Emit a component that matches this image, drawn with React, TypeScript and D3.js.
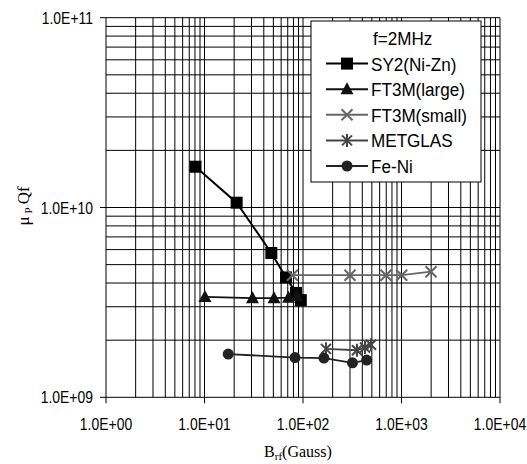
import React from "react";
import * as d3 from "d3";

const W = 527;
const H = 464;

const xTickLabels = ["1.0E+00", "1.0E+01", "1.0E+02", "1.0E+03", "1.0E+04"];
const xTickValues = [1, 10, 100, 1000, 10000];
const yTickLabels = ["1.0E+09", "1.0E+10", "1.0E+11"];
const yTickValues = [1e9, 1e10, 1e11];

const sy2X = [8.1, 21.2, 47.7, 67.2, 85, 95];
const sy2Y = [1.64e10, 1.06e10, 5.76e9, 4.28e9, 3.55e9, 3.25e9];

const ft3mLargeX = [10.1, 30.7, 50.8, 71.3, 86.3];
const ft3mLargeY = [3.38e9, 3.33e9, 3.33e9, 3.35e9, 3.42e9];

const ft3mSmallX = [78, 300, 696, 1005, 1995];
const ft3mSmallY = [4.4e9, 4.4e9, 4.4e9, 4.4e9, 4.59e9];

const metglasX = [171, 353, 426, 490];
const metglasY = [1.8e9, 1.77e9, 1.83e9, 1.89e9];

const feNiX = [17.4, 83, 163, 318, 443];
const feNiY = [1.69e9, 1.62e9, 1.61e9, 1.52e9, 1.57e9];

const legendTitle = "f=2MHz";
const seriesNames = ["SY2(Ni-Zn)", "FT3M(large)", "FT3M(small)", "METGLAS", "Fe-Ni"];

type Marker = "square" | "triangle" | "x" | "asterisk" | "circle";

const series: { name: string; xs: number[]; ys: number[]; color: string; marker: Marker; lw: number }[] = [
  { name: seriesNames[0], xs: sy2X, ys: sy2Y, color: "#000", marker: "square", lw: 2 },
  { name: seriesNames[1], xs: ft3mLargeX, ys: ft3mLargeY, color: "#111", marker: "triangle", lw: 1.6 },
  { name: seriesNames[2], xs: ft3mSmallX, ys: ft3mSmallY, color: "#666", marker: "x", lw: 1.8 },
  { name: seriesNames[3], xs: metglasX, ys: metglasY, color: "#444", marker: "asterisk", lw: 1.8 },
  { name: seriesNames[4], xs: feNiX, ys: feNiY, color: "#222", marker: "circle", lw: 1.8 },
];

const sansFont = "'Liberation Sans', Arial, sans-serif";
const serifFont = "'Liberation Serif', 'Times New Roman', serif";

function MarkerShape({ kind, cx, cy, color }: { kind: Marker; cx: number; cy: number; color: string }) {
  const s = 6;
  switch (kind) {
    case "square":
      return <rect x={cx - s} y={cy - s} width={2 * s} height={2 * s} fill={color} />;
    case "triangle":
      return (
        <path
          d={`M${cx},${cy - 7} L${cx + 6.5},${cy + 5} L${cx - 6.5},${cy + 5} Z`}
          fill={color}
        />
      );
    case "x":
      return (
        <path
          d={`M${cx - 5.5},${cy - 5.5} L${cx + 5.5},${cy + 5.5} M${cx - 5.5},${cy + 5.5} L${cx + 5.5},${cy - 5.5}`}
          stroke={color}
          strokeWidth={2}
          fill="none"
        />
      );
    case "asterisk":
      return (
        <path
          d={`M${cx - 5},${cy - 5} L${cx + 5},${cy + 5} M${cx - 5},${cy + 5} L${cx + 5},${cy - 5} M${cx},${cy - 6.5} L${cx},${cy + 6.5}`}
          stroke={color}
          strokeWidth={2}
          fill="none"
        />
      );
    case "circle":
      return <circle cx={cx} cy={cy} r={5.5} fill={color} />;
  }
}

function NarrowText({
  x,
  y,
  anchor,
  size,
  sx,
  children,
}: {
  x: number;
  y: number;
  anchor: "start" | "middle" | "end";
  size: number;
  sx: number;
  children: React.ReactNode;
}) {
  return (
    <text
      transform={`translate(${x},${y}) scale(${sx},1)`}
      textAnchor={anchor}
      fontFamily={sansFont}
      fontSize={size}
      fill="#000"
    >
      {children}
    </text>
  );
}

export default function App() {
  const left = 106;
  const right = 500;
  const top = 17.7;
  const bottom = 397.3;

  const x = d3.scaleLog().domain([1, 1e4]).range([left, right]);
  const y = d3.scaleLog().domain([1e9, 1e11]).range([bottom, top]);

  const xGrid = x.ticks();
  const yGrid = y.ticks();

  const line = d3
    .line<[number, number]>()
    .x((d) => x(d[0]))
    .y((d) => y(d[1]));

  const lgLeft = 311;
  const lgTop = 21;
  const lgW = 170;
  const lgH = 161;
  const rowY = (i: number) => 38 + i * 25.6;

  return (
    <svg
      width={W}
      height={H}
      style={{ position: "absolute", left: 0, top: 0, background: "#fff" }}
    >
      <rect x={0} y={0} width={W} height={H} fill="#fff" />
      {/* grid */}
      {xGrid.map((v, i) => (
        <line key={"xg" + i} x1={x(v)} x2={x(v)} y1={top} y2={bottom} stroke="#000" strokeWidth={1} />
      ))}
      {yGrid.map((v, i) => (
        <line key={"yg" + i} x1={left} x2={right} y1={y(v)} y2={y(v)} stroke="#000" strokeWidth={1} />
      ))}
      {/* major ticks */}
      {yTickValues.map((v, i) => (
        <line key={"yt" + i} x1={left - 6} x2={left} y1={y(v)} y2={y(v)} stroke="#000" strokeWidth={1} />
      ))}
      {xTickValues.map((v, i) => (
        <line key={"xt" + i} x1={x(v)} x2={x(v)} y1={bottom} y2={bottom + 6} stroke="#000" strokeWidth={1} />
      ))}
      {/* tick labels */}
      {yTickValues.map((v, i) => (
        <NarrowText key={"yl" + i} x={93} y={y(v) + 6} anchor="end" size={17} sx={0.82}>
          {yTickLabels[i]}
        </NarrowText>
      ))}
      {xTickValues.map((v, i) => (
        <NarrowText key={"xl" + i} x={x(v)} y={429.5} anchor="middle" size={17} sx={0.82}>
          {xTickLabels[i]}
        </NarrowText>
      ))}
      {/* axis titles */}
      <text x={298} y={457} textAnchor="middle" fontFamily={serifFont} fontSize={16} fill="#000">
        B<tspan fontSize={11} dy={3}>rf</tspan>
        <tspan dy={-3}>(Gauss)</tspan>
      </text>
      <text
        transform="translate(29,206) rotate(-90)"
        textAnchor="middle"
        fontFamily={serifFont}
        fontSize={17}
        fill="#000"
      >
        μ<tspan fontSize={11} dx={3} dy={3}>P</tspan>
        <tspan dx={3} dy={-3}>Qf</tspan>
      </text>
      {/* series */}
      {series.map((s, si) => {
        const pts = s.xs.map((xv, i) => [xv, s.ys[i]] as [number, number]);
        return (
          <g key={"s" + si}>
            <path d={line(pts) || ""} fill="none" stroke={s.color} strokeWidth={s.lw} />
            {pts.map((p, i) => (
              <MarkerShape key={i} kind={s.marker} cx={x(p[0])} cy={y(p[1])} color={s.color} />
            ))}
          </g>
        );
      })}
      {/* legend */}
      <rect x={lgLeft} y={lgTop} width={lgW} height={lgH} fill="#fff" stroke="#000" strokeWidth={1} />
      <NarrowText x={373} y={rowY(0) + 7} anchor="start" size={19} sx={0.9}>
        {legendTitle}
      </NarrowText>
      {series.map((s, i) => (
        <g key={"lg" + i}>
          <line x1={326} x2={368} y1={rowY(i + 1)} y2={rowY(i + 1)} stroke={s.color} strokeWidth={2} />
          <MarkerShape kind={s.marker} cx={347} cy={rowY(i + 1)} color={s.color} />
          <NarrowText x={371} y={rowY(i + 1) + 7} anchor="start" size={19} sx={0.9}>
            {s.name}
          </NarrowText>
        </g>
      ))}
    </svg>
  );
}
